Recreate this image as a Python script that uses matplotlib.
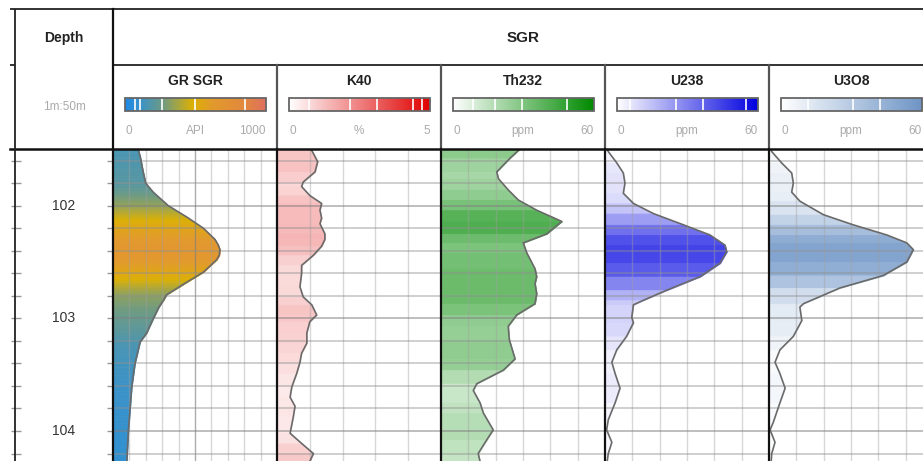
import numpy as np
import matplotlib
matplotlib.use('Agg')
import matplotlib.pyplot as plt
from matplotlib.colors import LinearSegmentedColormap, Normalize

plt.rcParams['font.family'] = ['Liberation Sans', 'DejaVu Sans']

W, H, DPI = 923, 461, 100

# ---------------- data ----------------
gr_depth = [101.49, 101.58, 101.68, 101.80, 101.88, 102.00, 102.10, 102.20, 102.30, 102.35,
            102.39, 102.44, 102.48, 102.59, 102.68, 102.79, 102.84, 102.90, 103.00, 103.13,
            103.21, 103.40, 103.61, 103.80, 103.99, 104.27]
gr_api = [152, 168, 181, 199, 245, 337, 449, 551, 622, 642,
          652, 648, 632, 551, 449, 327, 307, 280, 246, 205,
          165, 134, 114, 104, 94, 84]

k40_depth = [101.49, 101.51, 101.61, 101.70, 101.79, 101.83, 101.91, 101.98, 102.04, 102.11,
             102.16, 102.25, 102.30, 102.36, 102.44, 102.53, 102.60, 102.72, 102.81, 102.88,
             102.97, 103.03, 103.13, 103.22, 103.31, 103.39, 103.49, 103.61, 103.70, 103.78,
             103.87, 104.02, 104.11, 104.20, 104.27]
k40_pct = [1.00, 1.06, 1.24, 1.16, 0.80, 0.75, 1.00, 1.36, 1.31, 1.36,
           1.31, 1.46, 1.46, 1.36, 1.11, 0.75, 0.75, 0.70, 0.80, 1.06,
           1.21, 1.00, 0.91, 0.91, 0.75, 0.70, 0.60, 0.45, 0.40, 0.55,
           0.50, 0.40, 0.75, 1.11, 1.00]

th_depth = [101.49, 101.51, 101.58, 101.70, 101.76, 101.86, 101.95, 102.04, 102.14, 102.25,
            102.33, 102.42, 102.56, 102.63, 102.69, 102.78, 102.87, 102.97, 103.07, 103.19,
            103.36, 103.46, 103.58, 103.64, 103.75, 103.84, 103.99, 104.08, 104.20, 104.27]
th_ppm = [29.0, 28.3, 25.2, 20.4, 21.0, 24.6, 28.3, 35.0, 44.2, 38.7,
          30.1, 31.4, 34.4, 35.0, 34.4, 35.0, 34.4, 27.7, 24.6, 25.0,
          27.1, 22.8, 13.1, 11.8, 14.3, 15.5, 19.1, 16.7, 13.6, 14.3]

u238_depth = [101.49, 101.52, 101.62, 101.71, 101.80, 101.89, 101.98, 102.07, 102.17, 102.26,
              102.35, 102.41, 102.51, 102.63, 102.75, 102.84, 102.88, 102.99, 103.04, 103.16,
              103.28, 103.39, 103.49, 103.62, 103.75, 103.90, 103.99, 104.10, 104.20, 104.27]
u238_ppm = [0.5, 1.2, 4.3, 6.7, 7.3, 6.7, 10.4, 17.7, 28.7, 38.4,
            43.9, 44.5, 42.1, 34.8, 22.6, 14.0, 10.4, 9.8, 10.4, 7.9,
            4.3, 2.5, 3.7, 5.5, 3.7, 1.2, 0.6, 2.5, 1.2, 0.8]

u3o8_depth = [101.49, 101.52, 101.62, 101.71, 101.80, 101.88, 101.96, 102.08, 102.17, 102.26,
              102.33, 102.39, 102.50, 102.62, 102.73, 102.87, 102.90, 103.02, 103.16, 103.28,
              103.39, 103.49, 103.62, 103.75, 103.92, 103.99, 104.10, 104.20, 104.27]
u3o8_ppm = [0.4, 1.0, 4.6, 8.3, 8.9, 8.3, 11.3, 19.9, 30.8, 43.1,
            50.4, 52.8, 50.4, 41.8, 26.0, 12.6, 11.3, 12.0, 8.9, 4.0,
            2.2, 4.0, 5.9, 4.0, 1.6, 0.4, 2.2, 1.0, 0.8]

track_titles = ['GR SGR', 'K40', 'Th232', 'U238', 'U3O8']
track_units = ['API', '%', 'ppm', 'ppm', 'ppm']
track_min = [0, 0, 0, 0, 0]
track_max = [1000, 5, 60, 60, 60]
track_max_labels = ['1000', '5', '60', '60', '60']
depth_labels = [102, 103, 104]

# ---------------- styles ----------------
cmaps = [
    LinearSegmentedColormap.from_list('gr', [(0, '#1e88e5'), (0.1, '#3892cc'), (0.26, '#6b9a86'),
                                             (0.48, '#dcb004'), (0.62, '#e29a2c'), (0.85, '#e2883e'),
                                             (1, '#e07060')]),
    LinearSegmentedColormap.from_list('k40', ['#ffffff', '#e00000']),
    LinearSegmentedColormap.from_list('th', ['#ffffff', '#008a00']),
    LinearSegmentedColormap.from_list('u', ['#ffffff', '#0000e0']),
    LinearSegmentedColormap.from_list('u3o8', ['#ffffff', '#6f95c6']),
]
ndivs = [10, 5, 6, 6, 6]
smooth_fill = [True, False, False, False, False]
bar_marks = [[0.071, 0.107, 0.265, 0.498, 0.848],
             [0.141, 0.435, 0.624, 0.878, 0.946],
             [0.142, 0.296, 0.486, 0.806],
             [0.095, 0.419, 0.609, 0.912],
             [0.194, 0.514, 0.704]]
depths_all = [gr_depth, k40_depth, th_depth, u238_depth, u3o8_depth]
vals_all = [gr_api, k40_pct, th_ppm, u238_ppm, u3o8_ppm]

fig = plt.figure(figsize=(W / DPI, H / DPI), dpi=DPI)


def rect(x0, y0, x1, y1):
    return [x0 / W, 1 - y1 / H, (x1 - x0) / W, (y1 - y0) / H]


D_TOP, D_BOT = 101.497, 104.266
Y0, Y1 = 149, 461
TX0, TW = 113, 164
grid_depths = np.round(np.arange(101.6, 104.27, 0.2), 1)

# depth track
axd = fig.add_axes(rect(15, Y0, 113, Y1))
axd.set_xlim(0, 1)
axd.set_ylim(D_BOT, D_TOP)
axd.axis('off')
tr = axd.get_yaxis_transform()
axd.hlines(grid_depths, -0.04, 0.06, transform=tr, color='#999999', lw=1.0, clip_on=False)
axd.hlines(grid_depths, 0.94, 1.0, transform=tr, color='#999999', lw=1.0, clip_on=False)
for d in depth_labels:
    axd.text(0.5, d, str(d), transform=tr, ha='center', va='center', fontsize=10, color='#333333')

for i in range(5):
    x0 = TX0 + i * TW
    ax = fig.add_axes(rect(x0, Y0, x0 + TW, Y1))
    vmin, vmax = track_min[i], track_max[i]
    ax.set_xlim(vmin, vmax)
    ax.set_ylim(D_BOT, D_TOP)
    ax.axis('off')
    cmap = cmaps[i]
    norm = Normalize(vmin, vmax)
    dd = np.asarray(depths_all[i], float)
    vv = np.asarray(vals_all[i], float)
    nsub = 6 if smooth_fill[i] else 1
    for j in range(len(dd) - 1):
        for s in range(nsub):
            a0, a1 = s / nsub, (s + 1) / nsub
            da, db = dd[j] + a0 * (dd[j + 1] - dd[j]), dd[j] + a1 * (dd[j + 1] - dd[j])
            va, vb = vv[j] + a0 * (vv[j + 1] - vv[j]), vv[j] + a1 * (vv[j + 1] - vv[j])
            c = cmap(norm(0.5 * (va + vb)))
            ax.fill_betweenx([da, db], 0, [va, vb], color=c, lw=0.6, edgecolor=c, zorder=1)
    xs = np.linspace(vmin, vmax, ndivs[i] + 1)[1:-1]
    for k, xv in enumerate(xs):
        major = (ndivs[i] == 10 and k == 4)
        ax.axvline(xv, color='#808080' if major else '#a0a0a0', alpha=0.65 if major else 0.42,
                   lw=1.0, zorder=2)
    for gd in grid_depths:
        major = abs(gd - round(gd)) < 1e-6
        ax.axhline(gd, color='#808080' if major else '#909090', alpha=0.65 if major else 0.55,
                   lw=1.1, zorder=2)
    ax.plot(vv, dd, color='#6a6a6a', lw=1.2, zorder=3)

# overlay for header / frame
ov = fig.add_axes([0, 0, 1, 1], facecolor='none')
ov.set_zorder(10)
ov.axis('off')

for i in range(5):
    x0 = TX0 + i * TW
    bx0, bx1 = x0 + 12, x0 + 153
    grad = np.linspace(0, 1, 256)[None, :]
    ov.imshow(grad, cmap=cmaps[i], extent=(bx0, bx1, 111, 98), aspect='auto', zorder=2)
    ov.add_patch(plt.Rectangle((bx0, 98), bx1 - bx0, 13, fill=False, ec='#666666', lw=1.3, zorder=4))
    for f in bar_marks[i]:
        xm = bx0 + f * (bx1 - bx0)
        ov.plot([xm, xm], [98.8, 110.2], color='white', lw=1.2, zorder=3)
    ov.text(x0 + 82, 81, track_titles[i], ha='center', va='center', fontsize=10,
            fontweight='bold', color='#222222')
    ov.text(bx0, 131, '0', ha='left', va='center', fontsize=8.5, color='#aaaaaa')
    ov.text(x0 + 82, 131, track_units[i], ha='center', va='center', fontsize=8.5, color='#aaaaaa')
    ov.text(bx1, 131, track_max_labels[i], ha='right', va='center', fontsize=8.5, color='#aaaaaa')

ov.text(64, 38, 'Depth', ha='center', va='center', fontsize=10, fontweight='bold', color='#222222')
ov.text(64, 107, '1m:50m', ha='center', va='center', fontsize=8.5, color='#aaaaaa')
ov.text(523, 38, 'SGR', ha='center', va='center', fontsize=11, fontweight='bold', color='#222222')

lk = dict(color='#222222', lw=1.3, solid_capstyle='butt', zorder=5)
ov.plot([10, W], [9, 9], **lk)
ov.plot([10, 15], [65, 65], **lk)
ov.plot([113, W], [65, 65], **lk)
ov.plot([10, W], [149, 149], color='#111111', lw=1.8, zorder=5)
ov.plot([15, 15], [9, H], **lk)
ov.plot([113, 113], [9, H], color='#111111', lw=1.6, zorder=5)
for i in range(1, 5):
    xs_ = TX0 + i * TW
    ov.plot([xs_, xs_], [65, 149], color='#555555', lw=1.6, zorder=5)
    ov.plot([xs_, xs_], [149, H], color='#111111', lw=1.6, zorder=5)

ov.set_xlim(0, W)
ov.set_ylim(H, 0)

fig.savefig('out.png', dpi=DPI)
